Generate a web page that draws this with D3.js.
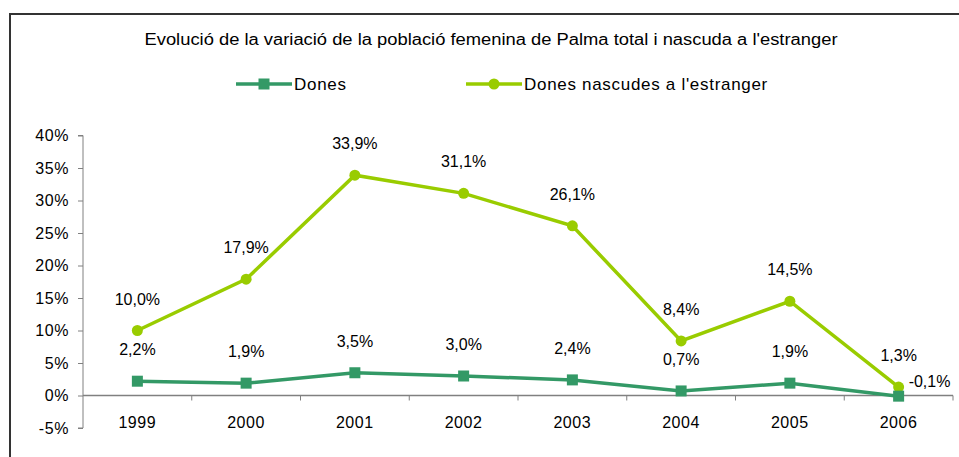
<meta charset="utf-8">
<head>
<style>
  body { margin: 0; background: #fff; }
  svg text { font-family: "Liberation Sans", Arial, sans-serif; fill: #000; }
</style>
</head>
<body>
<div id="chartId"></div>
</body>
<script src="https://d3js.org/d3.v7.min.js"></script>
<script>

// Data
var years = ["1999", "2000", "2001", "2002", "2003", "2004", "2005", "2006"];
var dones = [2.2, 1.9, 3.5, 3.0, 2.4, 0.7, 1.9, -0.1];
var donesEstranger = [10.0, 17.9, 33.9, 31.1, 26.1, 8.4, 14.5, 1.3];
var yTicks = [-5, 0, 5, 10, 15, 20, 25, 30, 35, 40];

var title = "Evolució de la variació de la població femenina de Palma total i nascuda a l'estranger";
var colDones = "#339966", colEstr = "#99cc00";

var width = 959, height = 457;

var svg = d3.select("#chartId").append("svg")
	.attr("width", width)
	.attr("height", height);

// outer frame (runs off right and bottom)
svg.append("path")
	.attr("d", "M10,470 L10,14 L970,14")
	.attr("fill", "none")
	.attr("stroke", "#333")
	.attr("stroke-width", 2);

svg.append("text")
	.attr("x", 491).attr("y", 45)
	.attr("text-anchor", "middle")
	.attr("font-size", 16)
	.attr("textLength", 693)
	.attr("lengthAdjust", "spacingAndGlyphs")
	.text(title);

// scales
var x = d3.scaleBand().domain(years).range([83, 953]);
var y = d3.scaleLinear().domain([-5, 40]).range([428, 135.5]);
function fmt(v) { return v.toFixed(1).replace(".", ",") + "%"; }

// y axis
var yAxis = svg.append("g").attr("transform", "translate(83,0)")
	.call(d3.axisLeft(y).tickValues(yTicks).tickSize(5).tickPadding(9)
		.tickFormat(function(d) { return d + "%"; }));
yAxis.select(".domain").attr("stroke", "#808080").attr("d", "M-5," + y(40) + "H0V" + y(-5) + "H-5");
yAxis.selectAll(".tick line").attr("stroke", "#808080");
yAxis.selectAll("text").attr("font-size", 16).attr("font-family", "Liberation Sans, Arial")
	.attr("letter-spacing", 0.6).attr("fill", "#000");

// x axis at zero
var xg = svg.append("g");
xg.append("line")
	.attr("x1", 83).attr("x2", 953)
	.attr("y1", y(0)).attr("y2", y(0))
	.attr("stroke", "#808080").attr("stroke-width", 1.5);
xg.selectAll(".xt")
	.data(years.slice(1).concat(["end"]))
	.enter().append("line")
	.attr("x1", function(d, i) { return 83 + (i + 1) * x.bandwidth(); })
	.attr("x2", function(d, i) { return 83 + (i + 1) * x.bandwidth(); })
	.attr("y1", y(0)).attr("y2", y(0) + 5)
	.attr("stroke", "#808080");
xg.selectAll(".xl")
	.data(years)
	.enter().append("text")
	.attr("x", function(d) { return x(d) + x.bandwidth() / 2; })
	.attr("y", 428)
	.attr("text-anchor", "middle")
	.attr("font-size", 16)
	.attr("letter-spacing", 0.6)
	.text(function(d) { return d; });

function cx(d, i) { return x(years[i]) + x.bandwidth() / 2; }

var line = d3.line()
	.x(function(d, i) { return cx(d, i); })
	.y(function(d) { return y(d); });

// Dones nascudes a l'estranger
svg.append("path").datum(donesEstranger)
	.attr("d", line).attr("fill", "none")
	.attr("stroke", colEstr).attr("stroke-width", 3.5);

// Dones
svg.append("path").datum(dones)
	.attr("d", line).attr("fill", "none")
	.attr("stroke", colDones).attr("stroke-width", 3.5);

svg.selectAll(".mk2").data(donesEstranger).enter().append("circle")
	.attr("cx", cx).attr("cy", function(d) { return y(d); })
	.attr("r", 5.5).attr("fill", colEstr);

svg.selectAll(".mk1").data(dones).enter().append("rect")
	.attr("x", function(d, i) { return cx(d, i) - 5.5; })
	.attr("y", function(d) { return y(d) - 5.5; })
	.attr("width", 11).attr("height", 11)
	.attr("fill", colDones);

// labels
svg.selectAll(".lb2").data(donesEstranger).enter().append("text")
	.attr("x", cx).attr("y", function(d) { return y(d) - 26; })
	.attr("text-anchor", "middle").attr("font-size", 16)
	.text(fmt);

svg.selectAll(".lb1").data(dones).enter().append("text")
	.attr("x", function(d, i) { return i == dones.length - 1 ? cx(d, i) + 10 : cx(d, i); })
	.attr("y", function(d, i) { return i == dones.length - 1 ? y(d) - 9 : y(d) - 26; })
	.attr("text-anchor", function(d, i) { return i == dones.length - 1 ? "start" : "middle"; })
	.attr("font-size", 16)
	.text(fmt);

// legend
var legend = [
	{ name: "Dones", color: colDones, x: 236, shape: "rect" },
	{ name: "Dones nascudes a l'estranger", color: colEstr, x: 466, shape: "circle" }
];
legend.forEach(function(l) {
	var g = svg.append("g");
	g.append("line").attr("x1", l.x).attr("x2", l.x + 56)
		.attr("y1", 84).attr("y2", 84)
		.attr("stroke", l.color).attr("stroke-width", 3.5);
	if (l.shape == "rect") {
		g.append("rect").attr("x", l.x + 28 - 5.5).attr("y", 84 - 5.5)
			.attr("width", 11).attr("height", 11).attr("fill", l.color);
	} else {
		g.append("circle").attr("cx", l.x + 28).attr("cy", 84).attr("r", 5.5).attr("fill", l.color);
	}
	g.append("text").attr("x", l.x + 58).attr("y", 90)
		.attr("font-size", 17).attr("letter-spacing", 0.7).text(l.name);
});

</script>
